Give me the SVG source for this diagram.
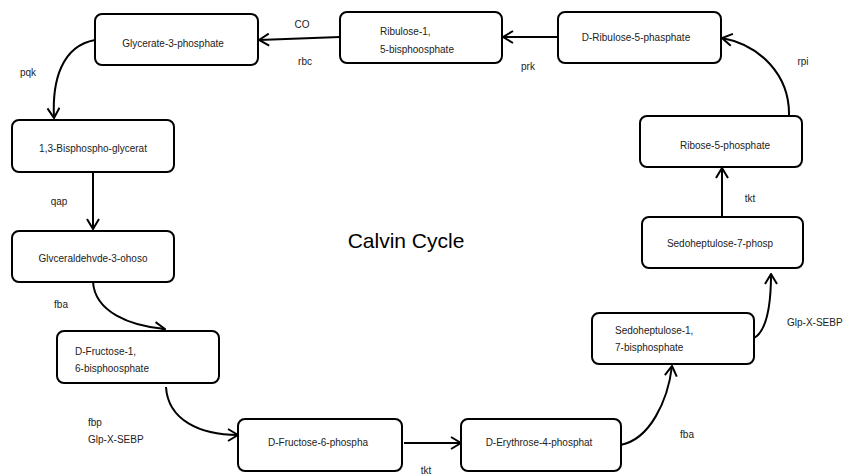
<svg xmlns="http://www.w3.org/2000/svg" width="850" height="476" viewBox="0 0 850 476">
<defs>
<marker id="arr" viewBox="0 0 12 14" refX="11" refY="7" markerWidth="12" markerHeight="14" markerUnits="userSpaceOnUse" orient="auto">
<path d="M1,1 L11,7 L1,13" fill="none" stroke="#000" stroke-width="2"/>
</marker>
<style>
.box{fill:#fff;stroke:#000;stroke-width:2}
.t{font-family:"Liberation Sans",Arial,sans-serif;font-size:10px;fill:#222}
.c{text-anchor:middle}
.e{fill:none;stroke:#000;stroke-width:2;marker-end:url(#arr)}
.title{font-family:"Liberation Sans",Arial,sans-serif;font-size:21px;fill:#000;text-anchor:middle}
</style>
</defs>
<rect width="850" height="476" fill="#fff"/>
<g id="connectors">
<path class="e" d="M340,37 L259,40"/>
<path class="e" d="M558,37 L503,37"/>
<path class="e" d="M789,116 C790,75 760,45 722,38"/>
<path class="e" d="M95,40 C62,46 52,80 54,118"/>
<path class="e" d="M93,172 L93,229"/>
<path class="e" d="M93,282 C95,312 130,326 165,329"/>
<path class="e" d="M166,387 C168,420 200,435 238,435"/>
<path class="e" d="M404,443 L461,443"/>
<path class="e" d="M620,445 C650,440 668,400 672,366"/>
<path class="e" d="M754,338 C768,330 771,300 771,274"/>
<path class="e" d="M722,217 L722,168"/>
</g>
<g id="labels">
<text class="t c" x="302" y="28">CO</text>
<text class="t c" x="305" y="65">rbc</text>
<text class="t c" x="528" y="70">prk</text>
<text class="t c" x="803" y="65">rpi</text>
<text class="t c" x="28" y="76">pqk</text>
<text class="t c" x="59" y="205">qap</text>
<text class="t c" x="61" y="308">fba</text>
<text class="t" x="88" y="426">fbp</text>
<text class="t" x="88" y="443">Glp-X-SEBP</text>
<text class="t c" x="426" y="474">tkt</text>
<text class="t c" x="687" y="438">fba</text>
<text class="t" x="787" y="326">Glp-X-SEBP</text>
<text class="t c" x="750" y="202">tkt</text>
<text class="title" x="406" y="248">Calvin Cycle</text>
</g>
<g id="n-glycerate3p">
<rect class="box" x="95" y="14" width="163" height="51" rx="7"/>
<text class="t c" x="173" y="47">Glycerate-3-phosphate</text>
</g>
<g id="n-ribulose15bp">
<rect class="box" x="340" y="12" width="162" height="51" rx="7"/>
<text class="t" x="380" y="35">Ribulose-1,</text>
<text class="t" x="380" y="53">5-bisphoosphate</text>
</g>
<g id="n-dribulose5p">
<rect class="box" x="558" y="12" width="163" height="51" rx="7"/>
<text class="t c" x="636" y="41">D-Ribulose-5-phasphate</text>
</g>
<g id="n-ribose5p">
<rect class="box" x="640" y="116" width="162" height="51" rx="7"/>
<text class="t c" x="725" y="149">Ribose-5-phosphate</text>
</g>
<g id="n-bisphosphoglycerat">
<rect class="box" x="12" y="120" width="162" height="52" rx="7"/>
<text class="t c" x="93" y="152">1,3-Bisphospho-glycerat</text>
</g>
<g id="n-glyceraldehyde">
<rect class="box" x="12" y="231" width="162" height="51" rx="7"/>
<text class="t c" x="93" y="262">Glvceraldehvde-3-ohoso</text>
</g>
<g id="n-fructose16bp">
<rect class="box" x="57" y="331" width="162" height="52" rx="7"/>
<text class="t" x="75" y="355">D-Fructose-1,</text>
<text class="t" x="75" y="372">6-bisphoosphate</text>
</g>
<g id="n-fructose6p">
<rect class="box" x="238" y="419" width="164" height="52" rx="7"/>
<text class="t c" x="318" y="446">D-Fructose-6-phospha</text>
</g>
<g id="n-erythrose4p">
<rect class="box" x="461" y="419" width="160" height="52" rx="7"/>
<text class="t c" x="539" y="446">D-Erythrose-4-phosphat</text>
</g>
<g id="n-sedoheptulose17bp">
<rect class="box" x="592" y="313" width="162" height="51" rx="7"/>
<text class="t" x="615" y="334">Sedoheptulose-1,</text>
<text class="t" x="615" y="351">7-bisphosphate</text>
</g>
<g id="n-sedoheptulose7p">
<rect class="box" x="642" y="217" width="161" height="51" rx="7"/>
<text class="t c" x="720" y="247">Sedoheptulose-7-phosp</text>
</g>
</svg>
